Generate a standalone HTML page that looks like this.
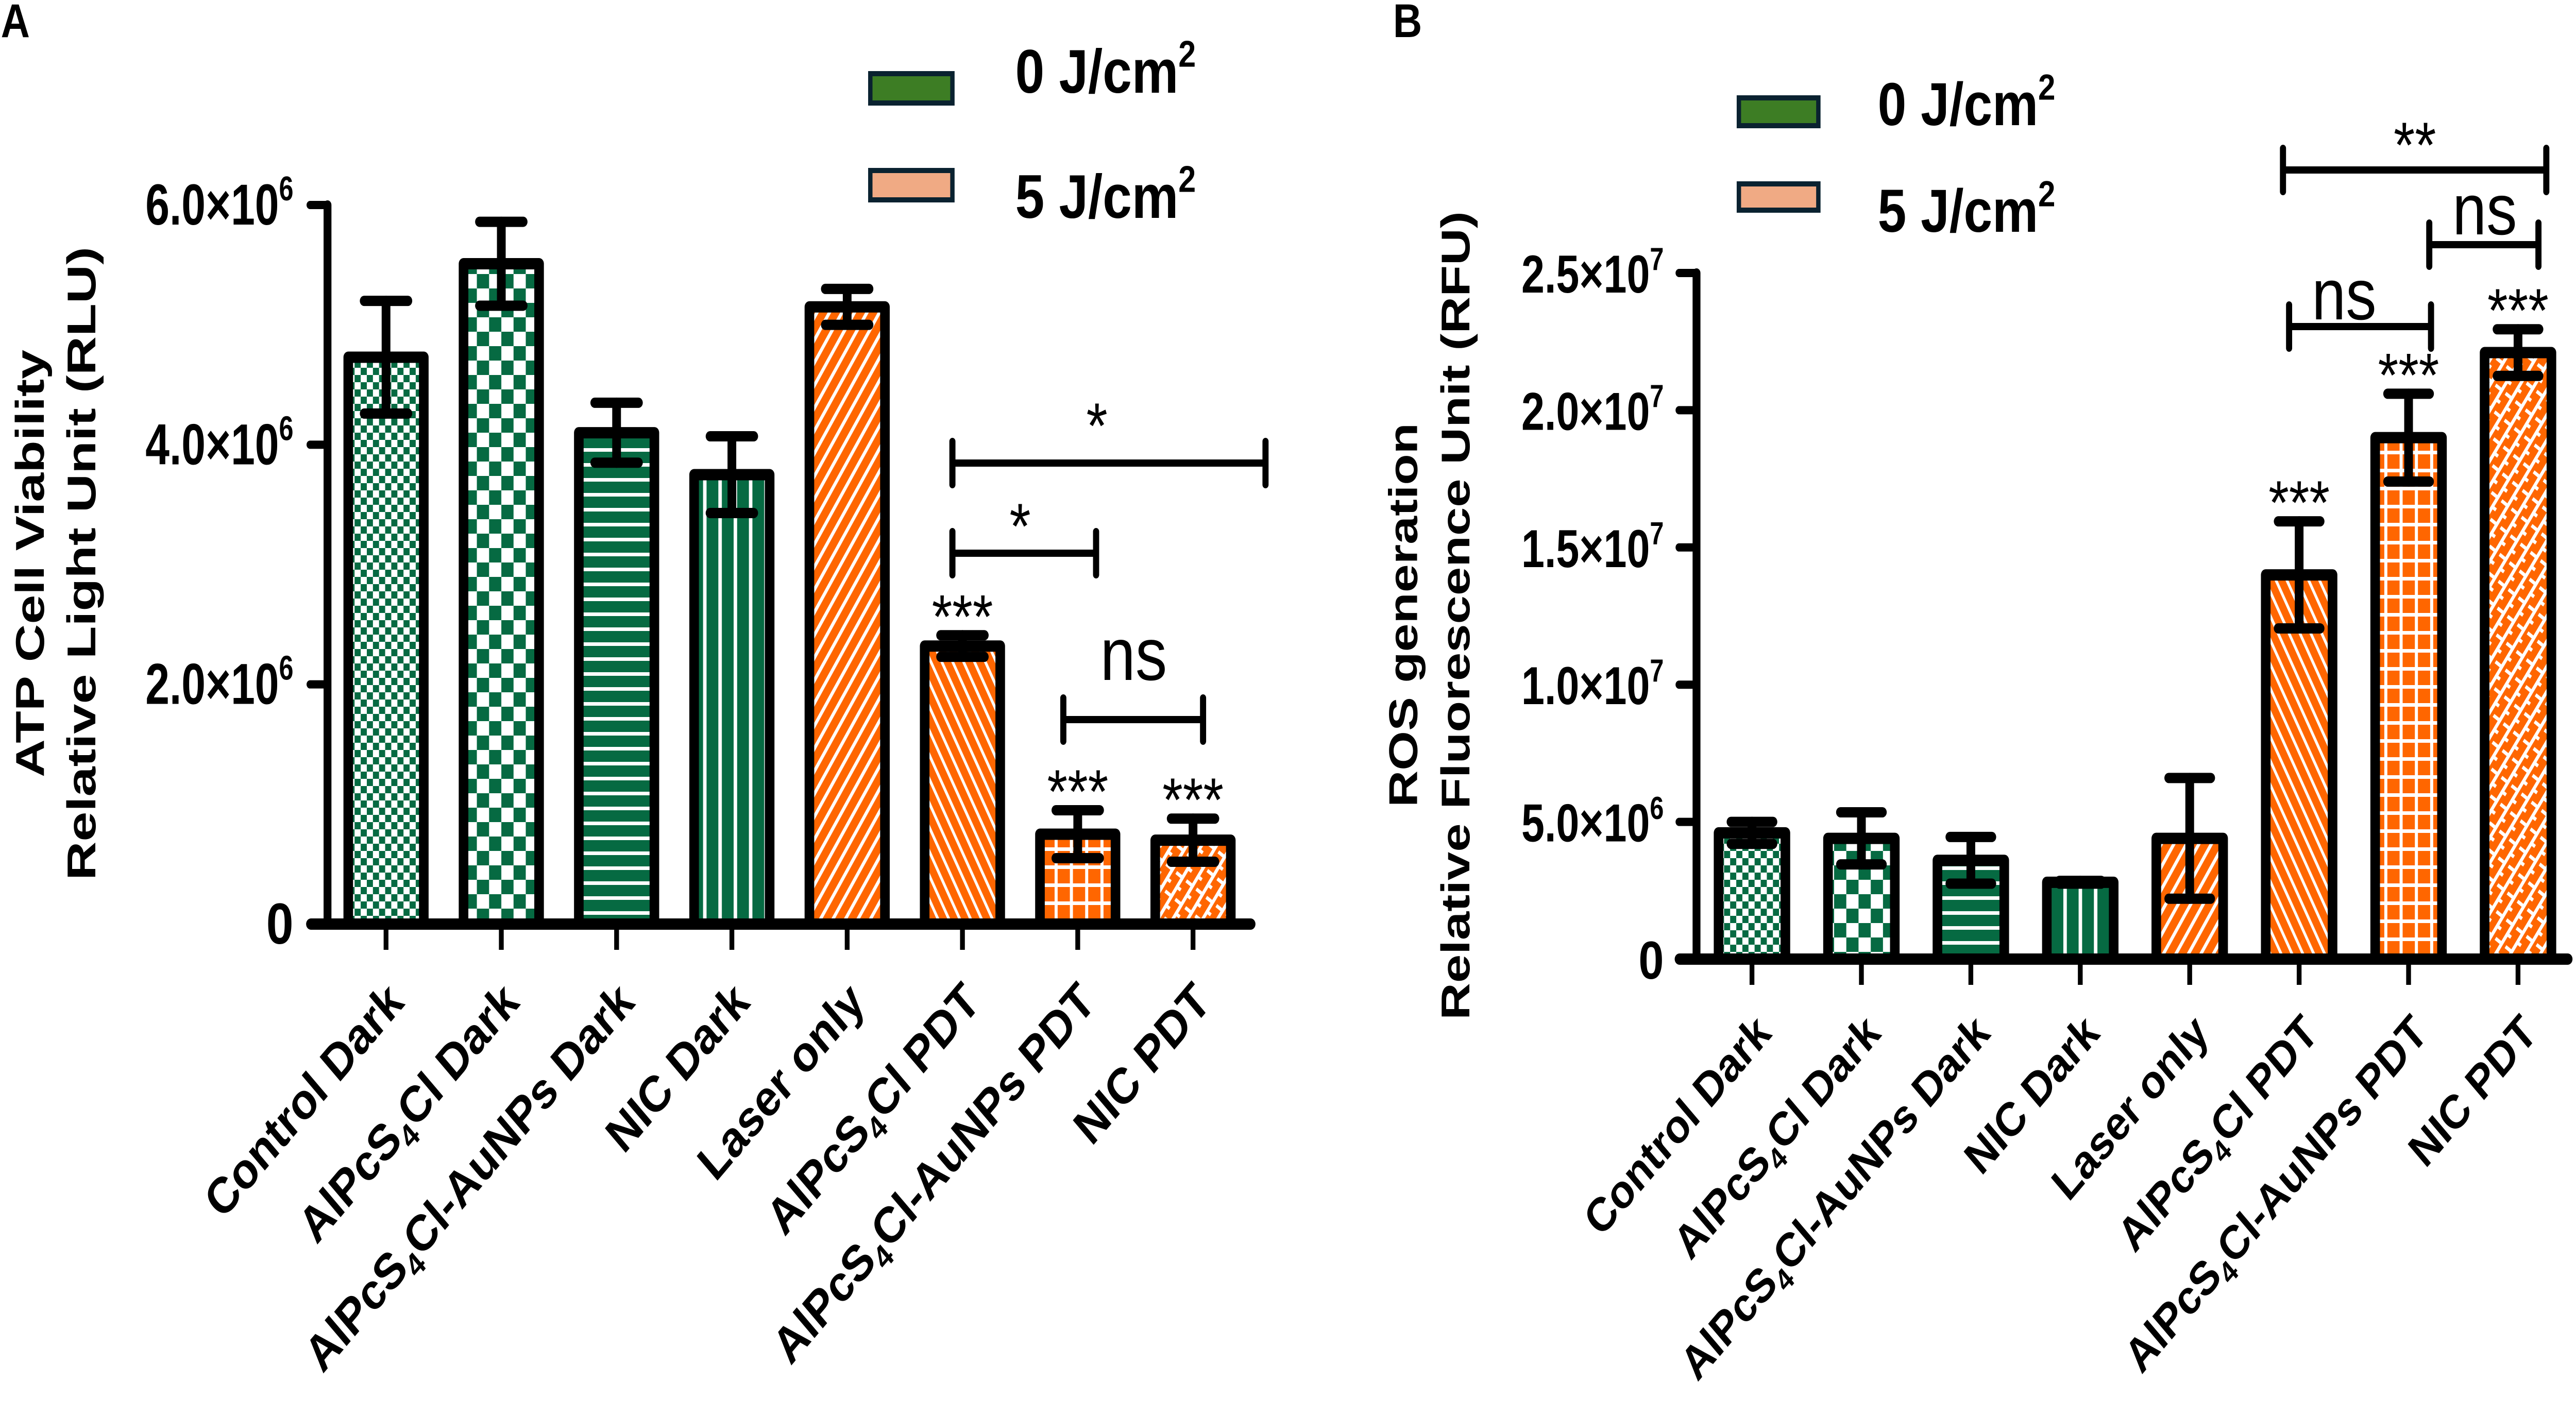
<!DOCTYPE html>
<html><head><meta charset="utf-8">
<style>
html,body{margin:0;padding:0;background:#fff;overflow:hidden;width:100%;height:100%;}
svg{display:block;width:100vw;height:100vh;}
.tk{font-family:"Liberation Sans Narrow","Liberation Sans",sans-serif;font-weight:bold;}
.b{font-family:"Liberation Sans",sans-serif;font-weight:bold;}
.r{font-family:"Liberation Sans",sans-serif;}
</style></head>
<body>
<svg id="fig" xmlns="http://www.w3.org/2000/svg" viewBox="0 0 5899 2749" preserveAspectRatio="none" overflow="hidden">
<defs>
<pattern id="pCheckS" patternUnits="userSpaceOnUse" width="28" height="28"><rect width="28" height="28" fill="#fff"/><rect width="14" height="14" fill="#066a42"/><rect x="14" y="14" width="14" height="14" fill="#066a42"/></pattern>
<pattern id="pCheckB" patternUnits="userSpaceOnUse" width="56" height="56"><rect width="56" height="56" fill="#fff"/><rect width="28" height="28" fill="#066a42"/><rect x="28" y="28" width="28" height="28" fill="#066a42"/></pattern>
<pattern id="pH" patternUnits="userSpaceOnUse" width="29" height="29"><rect width="29" height="29" fill="#066a42"/><rect y="0" width="29" height="7" fill="#fff"/></pattern>
<pattern id="pV" patternUnits="userSpaceOnUse" width="35" height="35"><rect width="35" height="35" fill="#066a42"/><rect x="0" width="8" height="35" fill="#fff"/></pattern>
<pattern id="pD1" patternUnits="userSpaceOnUse" width="24" height="24" patternTransform="rotate(33)"><rect width="24" height="24" fill="#ff6600"/><rect width="7" height="24" fill="#fff"/></pattern>
<pattern id="pD2" patternUnits="userSpaceOnUse" width="22" height="22" patternTransform="rotate(-28)"><rect width="22" height="22" fill="#ff6600"/><rect width="6" height="22" fill="#fff"/></pattern>
<pattern id="pG" patternUnits="userSpaceOnUse" width="35" height="35"><rect width="35" height="35" fill="#ff6600"/><rect width="7" height="35" fill="#fff"/><rect width="35" height="7" fill="#fff"/></pattern>
<pattern id="pX" patternUnits="userSpaceOnUse" width="44" height="28" patternTransform="rotate(-55)"><rect width="44" height="28" fill="#ff6600"/><rect width="44" height="7" fill="#fff"/><rect x="0" y="0" width="7" height="14" fill="#fff"/><rect x="22" y="14" width="7" height="14" fill="#fff"/></pattern>
</defs>
<g id="root"></g>
</svg>
<script>
// ---- data ----
const categories = ["Control Dark","AlPcS4Cl Dark","AlPcS4Cl-AuNPs Dark","NIC Dark","Laser only","AlPcS4Cl PDT","AlPcS4Cl-AuNPs PDT","NIC PDT"];
const atpValues = [4.73e6, 5.51e6, 4.10e6, 3.75e6, 5.15e6, 2.32e6, 0.75e6, 0.70e6];
const atpErrors = [0.47e6, 0.35e6, 0.25e6, 0.32e6, 0.15e6, 0.09e6, 0.20e6, 0.18e6];
const rosValues = [4.6e6, 4.4e6, 3.6e6, 2.8e6, 4.4e6, 14.0e6, 19.0e6, 22.1e6];
const rosErrors = [0.4e6, 0.95e6, 0.85e6, 0.05e6, 2.2e6, 1.95e6, 1.6e6, 0.85e6];
const atpTicks = [0, 2e6, 4e6, 6e6];
const atpTickLabels = ["0","2.0×10|6","4.0×10|6","6.0×10|6"];
const rosTicks = [0, 5e6, 10e6, 15e6, 20e6, 25e6];
const rosTickLabels = ["0","5.0×10|6","1.0×10|7","1.5×10|7","2.0×10|7","2.5×10|7"];
const atpStars = ["","","","","","***","***","***"];
const rosStars = ["","","","","","***","***","***"];
const fills = ["pCheckS","pCheckB","pH","pV","pD1","pD2","pG","pX"];

const NS="http://www.w3.org/2000/svg";
const root=document.getElementById('root');
function el(tag,attrs,parent){const e=document.createElementNS(NS,tag);for(const k in attrs)e.setAttribute(k,attrs[k]);(parent||root).appendChild(e);return e;}

function panel(cfg){
  const g=el('g',{});
  
  
  const y=v=>cfg.y0-(v/cfg.vmax)*(cfg.y0-cfg.yTop);
  const x=i=>cfg.x0+i*cfg.step;
  cfg.values.forEach((v,i)=>{
    const r=el('rect',{x:x(i)-cfg.bw/2,y:y(v),width:cfg.bw,height:cfg.y0-y(v),fill:'url(#'+fills[i]+')',stroke:'#000','stroke-width':22,'stroke-linejoin':'round'},g);
    
    
  });
  cfg.values.forEach((v,i)=>{
    const e=cfg.errors[i];
    const eg=el('g',{stroke:'#000','stroke-width':20,'stroke-linecap':'round'},g);
    
    
    el('line',{x1:x(i),x2:x(i),y1:y(v-e),y2:y(v+e)},eg);
    el('line',{x1:x(i)-cfg.cap,x2:x(i)+cfg.cap,y1:y(v+e),y2:y(v+e)},eg);
    el('line',{x1:x(i)-cfg.cap,x2:x(i)+cfg.cap,y1:y(v-e),y2:y(v-e)},eg);
    if(cfg.stars[i]){
      const t=el('text',{x:x(i),y:y(v+e)-cfg.starGap,'text-anchor':'middle','font-size':cfg.starFs,class:'r'},g);
      t.textContent=cfg.stars[i];
      
      
    }
  });
  const ax=el('g',{stroke:'#000','stroke-linecap':'round'},g);
  
  
  el('line',{x1:cfg.ax,x2:cfg.ax,y1:cfg.yTop,y2:cfg.y0,'stroke-width':18},ax);
  el('line',{x1:cfg.xl,x2:cfg.xr,y1:cfg.y0,y2:cfg.y0,'stroke-width':22},ax);
  cfg.ticks.forEach(t=>{el('line',{x1:cfg.ax-40,x2:cfg.ax,y1:y(t),y2:y(t),'stroke-width':16},ax);});
  cfg.values.forEach((v,i)=>{el('line',{x1:x(i),x2:x(i),y1:cfg.y0,y2:cfg.y0+50,'stroke-width':11,'stroke-linecap':'butt'},ax);});
  cfg.ticks.forEach((t,i)=>{
    const parts=cfg.tickLabels[i].split('|');
    const attrs={x:cfg.labRight,y:y(t)+38,'text-anchor':'end','font-size':cfg.tickFs,class:'tk'};
    if(parts[1]){attrs.textLength=cfg.tickLen;attrs.lengthAdjust='spacingAndGlyphs';}
    const tx=el('text',attrs,g);
    
    
    const a=el('tspan',{},tx);a.textContent=parts[0];
    if(parts[1]){const s=el('tspan',{dy:-cfg.tickFs*0.42,'font-size':cfg.tickFs*0.6},tx);s.textContent=parts[1];}
  });
  categories.forEach((c,i)=>{
    const px=x(i)+cfg.labDx, py=cfg.labY;
    const tx=el('text',{x:px,y:py,'text-anchor':'end','font-size':cfg.catFs,class:'b',transform:'rotate(-45 '+px+' '+py+')'},g);
    
    
    const m=c.split('4');
    if(m.length>1){
      const a=el('tspan',{},tx);a.textContent=m[0];
      const s=el('tspan',{dy:cfg.catFs*0.22,'font-size':cfg.catFs*0.65},tx);s.textContent='4';
      const b=el('tspan',{dy:-cfg.catFs*0.22},tx);b.textContent=m[1];
    } else tx.textContent=c;
  });
  cfg.brackets.forEach(br=>{
    const bg=el('g',{},g);
    
    
    el('path',{d:`M${br.x1} ${br.y-42}V${br.y+42}M${br.x1} ${br.y}H${br.x2}M${br.x2} ${br.y-42}V${br.y+42}`,stroke:'#000','stroke-width':14,fill:'none','stroke-linecap':'round'},bg);
    const t=el('text',{x:br.tx,y:br.ty,'text-anchor':'middle','font-size':br.fs,class:'r'},bg);
    t.textContent=br.label;
  });
  cfg.legend.forEach(lg=>{
    const lgG=el('g',{},g);
    
    
    el('rect',{x:lg.x,y:lg.y,width:lg.w,height:lg.h,fill:lg.fill,stroke:'#0a2230','stroke-width':10},lgG);
    const t=el('text',{x:lg.tx,y:lg.ty,'font-size':lg.fs,class:'tk'},lgG);
    const a=el('tspan',{},t);a.textContent=lg.label;
    const s=el('tspan',{dy:-lg.fs*0.42,'font-size':lg.fs*0.6},t);s.textContent='2';
  });
  cfg.titles.forEach(tt=>{
    const t=el('text',{x:tt.x,y:tt.y,'text-anchor':'middle','font-size':tt.fs,class:'b',transform:`rotate(-90 ${tt.x} ${tt.y})`,textLength:tt.len,lengthAdjust:'spacingAndGlyphs'},g);
    t.textContent=tt.text;
    
    
  });
  const pl=el('text',{x:cfg.plx,y:72,'font-size':92,class:'b'},g);
  pl.textContent=cfg.panelLabel;
  
  
}

panel({name:'panel-a-atp-chart',values:atpValues,errors:atpErrors,stars:atpStars,ticks:atpTicks,tickLabels:atpTickLabels,
  vmax:6e6,y0:1794,yTop:398,x0:884,step:264,bw:173,cap:50,ax:750,xl:712,xr:2864,labRight:672,tickFs:112,tickLen:339,
  starGap:-5,starFs:120,catFs:98,labDx:45,labY:1950,plx:2,panelLabel:'A',
  brackets:[{x1:2181,x2:2898,y:899,tx:2512,ty:870,label:'*',fs:125},
            {x1:2181,x2:2510,y:1074,tx:2336,ty:1065,label:'*',fs:125},
            {x1:2435,x2:2755,y:1397,tx:2596,ty:1320,label:'ns',fs:145}],
  legend:[{x:1993,y:143,w:188,h:57,fill:'#3d7d24',tx:2325,ty:180,fs:120,label:'0 J/cm'},
          {x:1993,y:331,w:188,h:57,fill:'#f0aa84',tx:2325,ty:423,fs:120,label:'5 J/cm'}],
  titles:[{x:100,y:1094,fs:92,len:830,text:'ATP Cell Viability'},{x:218,y:1094,fs:92,len:1230,text:'Relative Light Unit (RLU)'}]
});
panel({name:'panel-b-ros-chart',values:rosValues,errors:rosErrors,stars:rosStars,ticks:rosTicks,tickLabels:rosTickLabels,
  vmax:25e6,y0:1862,yTop:530,x0:4012,step:250.6,bw:153,cap:48,ax:3885,xl:3846,xr:5880,labRight:3810,tickFs:104,tickLen:326,
  starGap:-5,starFs:120,catFs:92,labDx:48,labY:2010,plx:3190,panelLabel:'B',
  brackets:[{x1:5228,x2:5831,y:330,tx:5530,ty:325,label:'**',fs:125},
            {x1:5563,x2:5813,y:475,tx:5690,ty:455,label:'ns',fs:140},
            {x1:5242,x2:5567,y:634,tx:5368,ty:620,label:'ns',fs:140}],
  legend:[{x:3982,y:190,w:182,h:54,fill:'#3d7d24',tx:4300,ty:243,fs:118,label:'0 J/cm'},
          {x:3982,y:357,w:182,h:51,fill:'#f0aa84',tx:4300,ty:450,fs:118,label:'5 J/cm'}],
  titles:[{x:3245,y:1194,fs:92,len:746,text:'ROS generation'},{x:3365,y:1195,fs:92,len:1570,text:'Relative Fluorescence Unit (RFU)'}]
});
</script>
</body></html>
